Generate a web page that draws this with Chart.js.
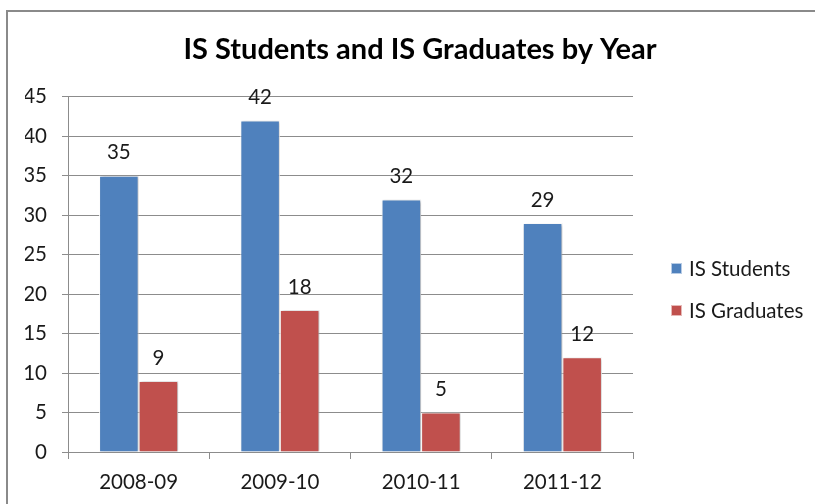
<!DOCTYPE html>
<html>
<head>
<meta charset="utf-8">
<script src="https://cdn.jsdelivr.net/npm/chart.js@4"></script>
<style>
    html, body { margin: 0; padding: 0; background: #fff; overflow: hidden; }
    #cadre {
        position: absolute; left: 6px; top: 10px;
        width: 900px; height: 600px;
        border: 2px solid #8a8a8a;
    }
    #zone { position: absolute; left: 0; top: 0; width: 815px; height: 504px; }
</style>
</head>
<body>
<div id="cadre"></div>
<div id="zone"><canvas id="barChart"></canvas></div>
<script>
// ===== DONNÉES =====
const annees = ["2008-09", "2009-10", "2010-11", "2011-12"];
const etudiants = [35, 42, 32, 29];
const diplomes = [9, 18, 5, 12];
const graduationsY = [0, 5, 10, 15, 20, 25, 30, 35, 40, 45];

const POLICE = "Lato";
const TAILLE = 20.5;
const GRIS = "#8c8c8c";

// ÉTIQUETTES DE VALEUR AU-DESSUS DES BARRES
const etiquettesValeurs = {
    id: "etiquettesValeurs",
    afterDatasetsDraw(chart) {
        const ctx = chart.ctx;
        ctx.save();
        ctx.font = TAILLE + "px " + POLICE;
        ctx.fillStyle = "#1a1a1a";
        ctx.textAlign = "center";
        ctx.textBaseline = "middle";
        chart.data.datasets.forEach((ds, i) => {
            chart.getDatasetMeta(i).data.forEach((barre, j) => {
                ctx.fillText(String(ds.data[j]), barre.x, barre.y - 23);
            });
        });
        ctx.restore();
    }
};

// OMBRE LÉGÈRE SOUS LES BARRES
const ombreBarres = {
    id: "ombreBarres",
    beforeDatasetsDraw(chart) {
        const ctx = chart.ctx;
        ctx.save();
        ctx.shadowColor = "rgba(0,0,0,0.28)";
        ctx.shadowBlur = 3;
        ctx.shadowOffsetX = 1.5;
        ctx.shadowOffsetY = 0.5;
    },
    afterDatasetsDraw(chart) {
        chart.ctx.restore();
    }
};

// LÉGENDE À DROITE
const legendeDroite = {
    id: "legendeDroite",
    afterDraw(chart) {
        const ctx = chart.ctx;
        const x = chart.chartArea.right + 38;
        ctx.save();
        ctx.font = TAILLE + "px " + POLICE;
        ctx.textBaseline = "middle";
        chart.data.datasets.forEach((ds, i) => {
            const y = 269 + i * 42;
            ctx.fillStyle = ds.backgroundColor;
            ctx.fillRect(x, y - 6, 11, 11);
            ctx.strokeStyle = "rgba(255,255,255,0.6)";
            ctx.lineWidth = 1;
            ctx.strokeRect(x + 0.5, y - 5.5, 10, 10);
            ctx.fillStyle = "#1a1a1a";
            ctx.fillText(ds.label, x + 18, y);
        });
        ctx.restore();
    }
};

new Chart(document.getElementById("barChart"), {
    type: "bar",
    data: {
        labels: annees,
        datasets: [
            {
                label: "IS Students",
                data: etudiants,
                backgroundColor: "#4f81bd",
                borderColor: "#ffffff",
                borderWidth: 1
            },
            {
                label: "IS Graduates",
                data: diplomes,
                backgroundColor: "#c0504d",
                borderColor: "#ffffff",
                borderWidth: 1
            }
        ]
    },
    options: {
        responsive: true,
        maintainAspectRatio: false,
        animation: false,
        datasets: {
            bar: { barPercentage: 1, categoryPercentage: 0.56 }
        },
        layout: {
            padding: { left: 25, right: 0, top: 0, bottom: 0 }
        },
        plugins: {
            legend: { display: false },
            tooltip: { enabled: false },
            title: {
                display: true,
                text: "IS Students and IS Graduates by Year",
                color: "#000",
                font: { family: POLICE, size: 29, weight: "bold" },
                padding: { top: 32, bottom: 30 }
            }
        },
        scales: {
            x: {
                afterFit(scale) {
                    scale.height = 52;
                },
                grid: {
                    offset: true,
                    drawOnChartArea: false,
                    color: GRIS,
                    tickLength: 7
                },
                border: { color: GRIS },
                ticks: {
                    color: "#1a1a1a",
                    padding: 11,
                    font: { family: POLICE, size: TAILLE }
                }
            },
            y: {
                min: 0,
                max: 45,
                afterBuildTicks(scale) {
                    scale.ticks = graduationsY.map(v => ({ value: v }));
                },
                afterFit(scale) {
                    scale.width = 43;
                },
                grid: { color: GRIS, tickLength: 6 },
                border: { color: GRIS },
                ticks: {
                    color: "#1a1a1a",
                    padding: 15,
                    font: { family: POLICE, size: TAILLE }
                }
            },
            // ESPACE RÉSERVÉ POUR LA LÉGENDE
            marge: {
                position: "right",
                display: true,
                afterFit(scale) {
                    scale.width = 182;
                },
                grid: { display: false },
                border: { display: false },
                ticks: { display: false }
            }
        }
    },
    plugins: [ombreBarres, etiquettesValeurs, legendeDroite]
});
</script>
</body>
</html>
